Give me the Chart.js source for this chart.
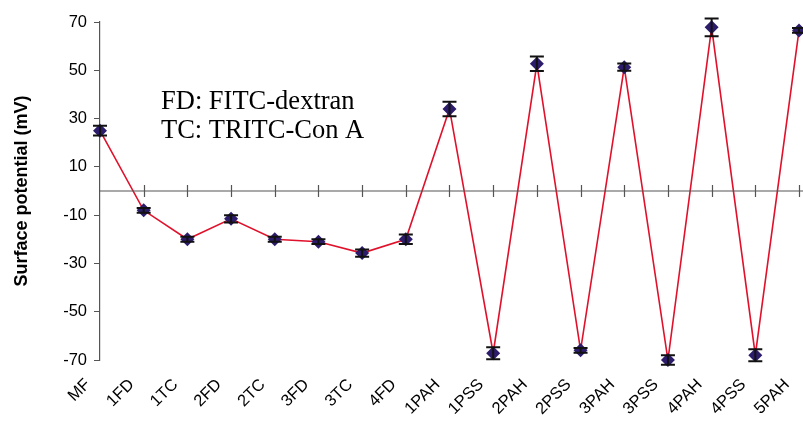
<!DOCTYPE html>
<html>
<head>
<meta charset="utf-8">
<script src="https://cdn.jsdelivr.net/npm/chart.js@4/dist/chart.umd.min.js"></script>
<style>
  html, body { margin: 0; padding: 0; background: #fff; overflow: hidden; }
  #wrap { width: 803px; height: 426px; overflow: hidden; }
</style>
</head>
<body>
<div id="wrap"><canvas id="chart" width="820" height="426"></canvas></div>
<script>
const categories = ["MF", "1FD", "1TC", "2FD", "2TC", "3FD", "3TC", "4FD",
  "1PAH", "1PSS", "2PAH", "2PSS", "3PAH", "3PSS", "4PAH", "4PSS", "5PAH"];
const potential = [25, -8, -20, -11.5, -20, -21, -25.7, -20,
  34, -67.2, 52.7, -66, 51.3, -70, 67.8, -68, 66.5];
const errors = [2, 1, 1, 1.5, 1, 1, 1.5, 2,
  3, 2.5, 3, 1, 1.5, 2, 3.7, 2.5, 1];
const yTicks = [-70, -50, -30, -10, 10, 30, 50, 70];
const notes = ["FD: FITC-dextran", "TC: TRITC-Con A"];

const axisGrey = "#555";

// zero line with crossing tick marks, error bars and the legend note
const extras = {
  id: "extras",
  afterDatasetsDraw(chart) {
    const { ctx, chartArea, scales } = chart;
    const x = scales.x, y = scales.y;
    const y0 = y.getPixelForValue(0);
    ctx.save();
    ctx.strokeStyle = axisGrey;
    ctx.lineWidth = 1.2;
    ctx.beginPath();
    ctx.moveTo(chartArea.left, y0);
    ctx.lineTo(chartArea.right + 20, y0);
    for (let i = 1; i < categories.length; i++) {
      const px = Math.round(x.getPixelForValue(i)) + 0.5;
      ctx.moveTo(px, y0 - 6);
      ctx.lineTo(px, y0 + 6);
    }
    ctx.stroke();

    ctx.strokeStyle = "#111";
    ctx.lineWidth = 2;
    potential.forEach((v, i) => {
      const px = x.getPixelForValue(i);
      const top = y.getPixelForValue(v + errors[i]);
      const bot = y.getPixelForValue(v - errors[i]);
      ctx.beginPath();
      ctx.moveTo(px, top);
      ctx.lineTo(px, bot);
      ctx.moveTo(px - 7, top);
      ctx.lineTo(px + 7, top);
      ctx.moveTo(px - 7, bot);
      ctx.lineTo(px + 7, bot);
      ctx.stroke();
    });
    ctx.restore();
  },
  afterDraw(chart) {
    const ctx = chart.ctx;
    ctx.save();
    ctx.fillStyle = "#000";
    ctx.font = "26.5px 'Liberation Serif', 'Times New Roman', serif";
    ctx.textBaseline = "alphabetic";
    ctx.fillText(notes[0], 161, 109);
    ctx.fillText(notes[1], 161, 138);
    ctx.restore();
  }
};

new Chart(document.getElementById("chart"), {
  type: "line",
  data: {
    labels: categories,
    datasets: [{
      label: "Surface potential",
      data: potential,
      borderColor: "#e0112b",
      borderWidth: 1.6,
      tension: 0,
      pointStyle: "rectRot",
      pointRadius: 7,
      pointBackgroundColor: "#2d1b6b",
      pointBorderColor: "#2d1b6b",
      pointBorderWidth: 0,
      clip: false
    }]
  },
  options: {
    responsive: false,
    animation: false,
    layout: { padding: { top: 22, right: 14, bottom: 0, left: 0 } },
    plugins: {
      legend: { display: false },
      tooltip: { enabled: false }
    },
    scales: {
      x: {
        offset: false,
        grid: { display: false },
        border: { display: false },
        ticks: {
          color: "#000",
          font: { family: "'Liberation Sans', Arial, sans-serif", size: 16.5 },
          minRotation: 45,
          maxRotation: 45,
          autoSkip: false,
          padding: 7,
          labelOffset: -12
        },
        afterFit(scale) { scale.height = 66; }
      },
      y: {
        min: -70,
        max: 70,
        afterBuildTicks(scale) { scale.ticks = yTicks.map(v => ({ value: v })); },
        grid: {
          drawOnChartArea: false,
          drawTicks: true,
          tickLength: 6,
          color: axisGrey
        },
        border: { display: true, color: axisGrey, width: 1.2 },
        ticks: {
          color: "#000",
          font: { family: "'Liberation Sans', Arial, sans-serif", size: 16.5 },
          padding: 7
        },
        title: {
          display: true,
          text: "Surface potential (mV)",
          color: "#000",
          font: { family: "'Liberation Sans', Arial, sans-serif", size: 18, weight: "bold" },
          padding: { top: 11, bottom: 0 }
        },
        afterFit(scale) { scale.width = 100; }
      }
    }
  },
  plugins: [extras]
});
</script>
</body>
</html>
